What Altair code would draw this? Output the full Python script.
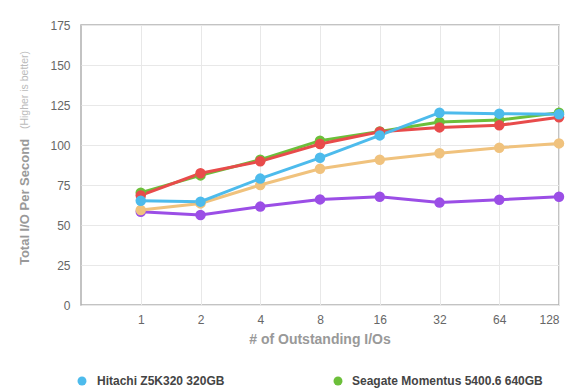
import altair as alt
import pandas as pd

ios = [1, 2, 4, 8, 16, 32, 64, 128]
series_names = ["Purple drive", "Orange drive", "Seagate Momentus 5400.6 640GB", "Red drive", "Hitachi Z5K320 320GB"]
colors = ["#9b4ee6", "#f0c27d", "#6cbf3a", "#e84b4b", "#4dbbec"]
purple = [58.3, 56.3, 61.5, 66.0, 67.7, 64.0, 65.8, 67.7]
orange = [59.4, 63.5, 75.0, 85.2, 90.8, 94.8, 98.3, 101.0]
green = [70.2, 81.0, 90.8, 102.7, 108.5, 114.4, 115.6, 120.2]
red = [68.5, 82.3, 89.8, 100.6, 108.3, 111.0, 112.3, 117.3]
blue = [65.2, 64.6, 79.0, 92.0, 106.0, 120.2, 119.6, 119.2]
y_ticks = [0, 25, 50, 75, 100, 125, 150, 175]
legend_names = ["Hitachi Z5K320 320GB", "Seagate Momentus 5400.6 640GB"]
legend_colors = ["#4dbbec", "#6cbf3a"]

rows = []
for name, vals in zip(series_names, [purple, orange, green, red, blue]):
    for i, (q, v) in enumerate(zip(ios, vals)):
        rows.append({"drive": name, "idx": i + 1, "io": q, "value": v})
df = pd.DataFrame(rows)

W, H = 478, 280
xaxis = alt.Axis(values=[1, 2, 3, 4, 5, 6, 7, 8], labelExpr="pow(2, datum.value - 1)",
                 title=None, ticks=False, domain=False, grid=True, gridColor="#e8e8e8",
                 labelColor="#666", labelFontSize=12, labelPadding=9, labelFont="Liberation Sans",
                 labelOverlap=False)
yaxis = alt.Axis(values=y_ticks, title=None, ticks=False, domain=False, labelOverlap=False,
                 grid=True, gridColor="#e8e8e8", labelColor="#666", labelFontSize=12,
                 labelPadding=11, labelFont="Liberation Sans")
xs = alt.X("idx:Q", scale=alt.Scale(domain=[0, 8], nice=False), axis=xaxis)
ys = alt.Y("value:Q", scale=alt.Scale(domain=[0, 175], nice=False), axis=yaxis)
col = alt.Color("drive:N", scale=alt.Scale(domain=series_names, range=colors), legend=None)

base = alt.Chart(df)
lines = base.mark_line(strokeWidth=3).encode(x=xs, y=ys, color=col)
points = base.mark_circle(size=110, opacity=1).encode(x=xs, y=ys, color=col)

def txt(t, px, py, **kw):
    return alt.Chart(pd.DataFrame({"t": [t]})).mark_text(**kw).encode(
        text="t:N", x=alt.value(px), y=alt.value(py))

xtitle = txt("# of Outstanding I/Os", 239, 315, fontSize=14, color="#999", fontWeight="bold",
             font="Liberation Sans", align="center", baseline="middle")
ytitle = txt("Total I/O Per Second", -56, 177, fontSize=13, color="#999", fontWeight="bold",
             font="Liberation Sans", angle=270, align="center", baseline="middle")
ysub = txt("(Higher is better)", -56, 65, fontSize=10.5, color="#bbb",
           font="Liberation Sans", angle=270, align="center", baseline="middle")

leg_df = pd.DataFrame({"name": legend_names, "px": [1, 257], "tx": [16, 271], "c": legend_colors})
leg_dots = alt.Chart(leg_df).mark_circle(size=80, opacity=1).encode(
    x=alt.X("px:Q", scale=None), y=alt.value(356), color=alt.Color("c:N", scale=None))
leg_text = alt.Chart(leg_df).mark_text(align="left", baseline="middle", fontSize=12, color="#444",
                                       font="Liberation Sans", fontWeight="bold").encode(
    x=alt.X("tx:Q", scale=None), y=alt.value(356), text="name:N")

chart = alt.layer(lines, points, xtitle, ytitle, ysub, leg_dots, leg_text).properties(
    width=W, height=H,
    autosize=alt.AutoSizeParams(type="none"),
    padding={"left": 73, "top": 17, "right": 10, "bottom": 85},
).configure_view(stroke="#b0b0b0", strokeWidth=1.5)

chart.save("out.html", embed_options={"renderer": "svg", "actions": False})
